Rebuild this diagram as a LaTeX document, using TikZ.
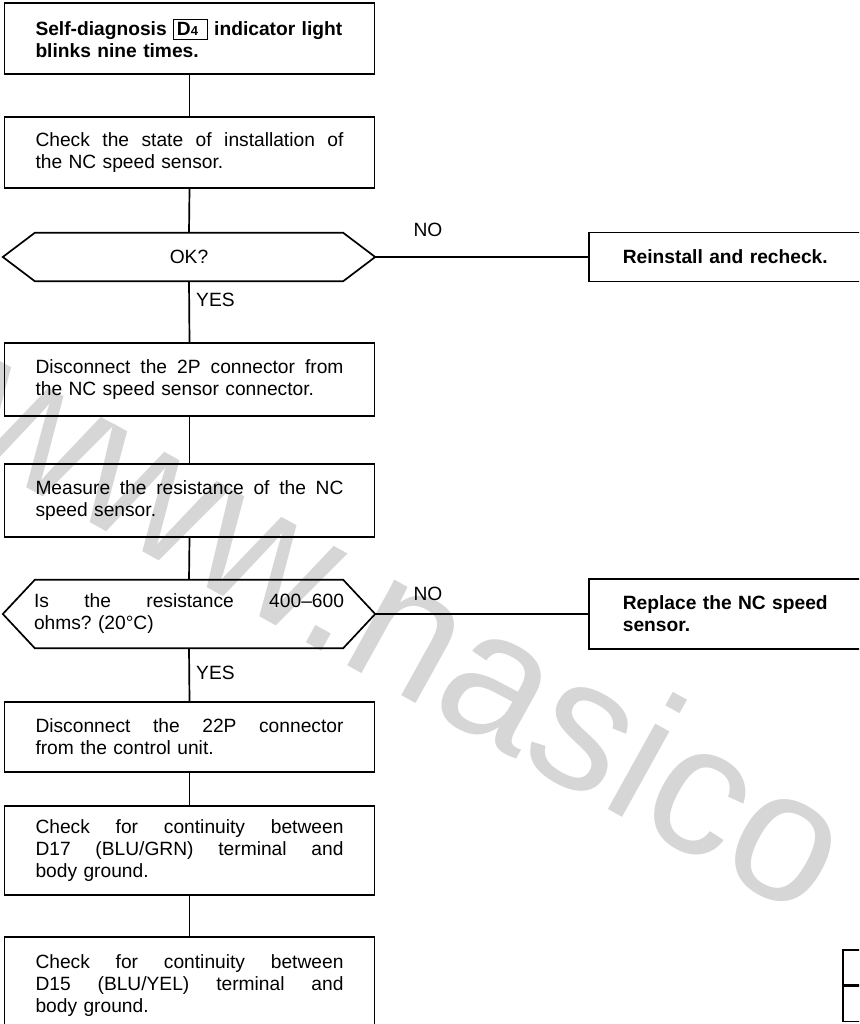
\documentclass[tikz,border=0pt]{standalone}
\usepackage{fontspec}
\setmainfont{Liberation Sans}
\frenchspacing
% one line spread to the full text width of a step box
\newcommand\jline[2][308pt]{\leavevmode\hbox to #1{\spaceskip=\fontdimen2\font plus 1fil\relax #2}}
% framed indicator code
\newcommand\indcode[2]{{\fboxsep=3pt\fboxrule=0.8pt\fbox{#1{\fontsize{13}{13}\selectfont #2}\hspace{6pt}}}}
% hexagonal decision outline with fixed 32pt points
\newcommand\drawhex[1]{%
  \draw[line width=1.7pt, line join=miter]
    ([xshift=32pt]#1.north west) -- ([xshift=-32pt]#1.north east)
    -- (#1.east) -- ([xshift=-32pt]#1.south east)
    -- ([xshift=32pt]#1.south west) -- (#1.west) -- cycle;}
\begin{document}
\begin{tikzpicture}[x=1pt,y=-1pt,
  txt/.style={font=\fontsize{19.2}{22}\selectfont},
  conn/.style={line width=1.7pt},
  stepbox/.style={txt, draw, line width=1.7pt, inner sep=0pt,
    minimum width=370pt, text width=308pt, align=left},
  boldbox/.style={stepbox, font=\fontsize{19.2}{22}\selectfont\bfseries},
  decision/.style={txt, inner sep=0pt, minimum width=372pt,
    text width=310pt, align=left},
  actbox/.style={draw, line width=1.7pt, inner xsep=34pt, inner ysep=0pt,
    text width=260pt, align=left, anchor=west,
    font=\fontsize{19.2}{22}\selectfont\bfseries},
  lbl/.style={txt, inner sep=0pt},
  cellbox/.style={draw, line width=1.7pt, minimum width=50pt,
    minimum height=35pt, inner sep=0pt, anchor=north west},
  wm/.style={text=black!16, inner sep=0pt, font=\fontsize{185}{185}\selectfont}
]
\clip (0,0) rectangle (859,1024);
\fill[white] (0,0) rectangle (859,1024);

% watermark
\node[wm, rotate=-29, anchor=base west] (mark) at (-50,445) {www.nasico};

% main column
\node[boldbox, minimum height=71pt] (s1) at (189.5,38.5)
  {\mbox{Self-diagnosis \indcode{D}{4} indicator light}\\ blinks nine times.};
\node[stepbox, minimum height=71pt] (s2) at (189.5,152.5)
  {\jline{Check the state of installation of}\\ the NC speed sensor.};
\node[decision, minimum height=48pt, align=center] (d1) at (189,257) {OK?};
\node[stepbox, minimum height=73pt] (s3) at (189.5,379.5)
  {\jline{Disconnect the 2P connector from}\\ the NC speed sensor connector.};
\node[stepbox, minimum height=73pt] (s4) at (189.5,500.5)
  {\jline{Measure the resistance of the NC}\\ speed sensor.};
\node[decision, minimum height=68pt] (d2) at (189,614)
  {\jline[310pt]{Is the resistance 400–600}\\ ohms? (20°C)};
\node[stepbox, minimum height=70pt] (s5) at (189.5,737)
  {\jline{Disconnect the 22P connector}\\ from the control unit.};
\node[stepbox, minimum height=89pt] (s6) at (189.5,850.5)
  {\jline{Check for continuity between}\\ \jline{D17 (BLU/GRN) terminal and}\\ body ground.};
\node[stepbox, minimum height=98pt] (s7) at (189.5,986)
  {\jline{Check for continuity between}\\ \jline{D15 (BLU/YEL) terminal and}\\ body ground.};

\drawhex{d1}
\drawhex{d2}

% remedies
\node[actbox, minimum height=49pt] (r1) at (588,257) {Reinstall and recheck.};
\node[actbox, minimum height=70pt] (r2) at (588,614) {Replace the NC speed\\ sensor.};

% partial table at bottom right
\node[cellbox] (t1) at (842,949) {};
\node[cellbox] (t2) at (t1.south west) {};

% connectors
\draw[conn] (s1.south) -- (s2.north);
\draw[conn] (s2.south) -- (d1.north);
\draw[conn] (d1.south) -- (s3.north);
\draw[conn] (s3.south) -- (s4.north);
\draw[conn] (s4.south) -- (d2.north);
\draw[conn] (d2.south) -- (s5.north);
\draw[conn] (s5.south) -- (s6.north);
\draw[conn] (s6.south) -- (s7.north);
\draw[conn] (d1.east) -- (r1.west);
\draw[conn] (d2.east) -- (r2.west);

% branch labels
\node[lbl] (no1) at (428,230) {NO};
\node[lbl] (no2) at (428,594) {NO};
\node[lbl, anchor=west] (yes1) at (196,300) {YES};
\node[lbl, anchor=west] (yes2) at (196,673) {YES};
\end{tikzpicture}
\end{document}
